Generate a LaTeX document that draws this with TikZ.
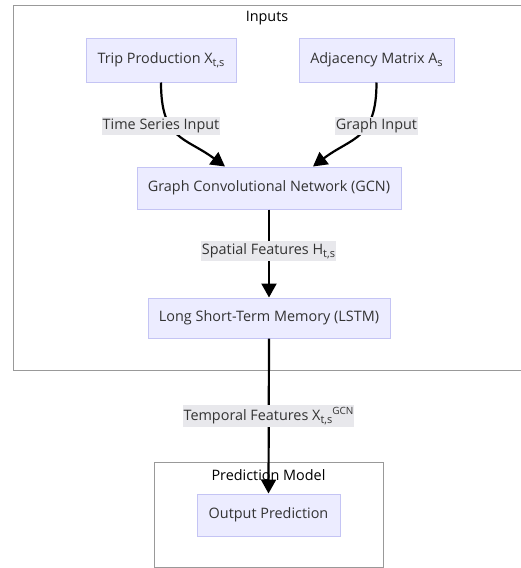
\documentclass[tikz,border=0pt]{standalone}
\usepackage{fontspec}
\setmainfont{Open Sans}
\usetikzlibrary{arrows.meta,calc}
\definecolor{nodefill}{HTML}{ECECFF}
\definecolor{nodeline}{HTML}{C4C4F4}
\definecolor{labelfill}{HTML}{E8E8EC}
\definecolor{groupline}{HTML}{999999}
\definecolor{textcol}{HTML}{333333}
\newcommand{\lowidx}[1]{\raisebox{-0.35ex}{\fontsize{11}{12}\selectfont #1}}
\newcommand{\highidx}[1]{\raisebox{0.75ex}{\fontsize{10}{12}\selectfont #1}}
\tikzset{
  procbox/.style={draw=nodeline, fill=nodefill, line width=1pt, inner sep=0pt,
    minimum height=44pt, text=textcol, font=\fontsize{14.4}{17}\selectfont},
  edgelabel/.style={fill=labelfill, inner xsep=1pt, inner ysep=2pt, text=textcol,
    font=\fontsize{14.4}{17}\selectfont},
  grouptitle/.style={text=black, font=\fontsize{14.4}{17}\selectfont},
  flow/.style={draw=black, line width=2.2pt, -{Triangle[length=14pt,width=15pt]}},
  groupbox/.style={draw=groupline, line width=1pt}
}
\begin{document}
\begin{tikzpicture}[x=1pt,y=-1pt]
\useasboundingbox (0,0) rectangle (521,568);
\clip (0,0) rectangle (521,568);

% group frames
\draw[groupbox] (13,5) rectangle (540,370);
\node[grouptitle] (intitle) at (267,18) {Inputs};
\draw[groupbox, fill=white] (154,462) rectangle (383,567);
\node[grouptitle] (predtitle) at (268.5,475) {Prediction Model};

% process nodes
\node[procbox, minimum width=150pt] (trip) at (161,60) {Trip Production X\lowidx{t,s}};
\node[procbox, minimum width=155pt] (adj) at (376.5,60) {Adjacency Matrix A\lowidx{s}};
\node[procbox, minimum width=264pt, minimum height=42pt] (gcn) at (269,188) {Graph Convolutional Network (GCN)};
\node[procbox, minimum width=242pt, minimum height=40pt] (lstm) at (269,318) {Long Short-Term Memory (LSTM)};
\node[procbox, minimum width=143pt, minimum height=42pt] (out) at (268.5,515) {Output Prediction};

% anchor points on the GCN top edge
\coordinate (gcnL) at ($(gcn.north)+(-44,0)$);
\coordinate (gcnR) at ($(gcn.north)+(44,0)$);

% connectors
\draw[flow] (trip.south) .. controls (161,140) and (185,137) .. (gcnL);
\draw[flow] (adj.south) .. controls (376.5,140) and (352,137) .. (gcnR);
\draw[flow] (gcn.south) -- (lstm.north);
\draw[flow] (lstm.south) -- (out.north);

% labels on connectors
\node[edgelabel] (l1) at (161,126) {Time Series Input};
\node[edgelabel] (l2) at (376.5,126) {Graph Input};
\node[edgelabel] (l3) at (268.5,251) {Spatial Features H\lowidx{t,s}};
\node[edgelabel] (l4) at (268.5,416) {Temporal Features X\lowidx{t,s}\highidx{GCN}};
\end{tikzpicture}
\end{document}
